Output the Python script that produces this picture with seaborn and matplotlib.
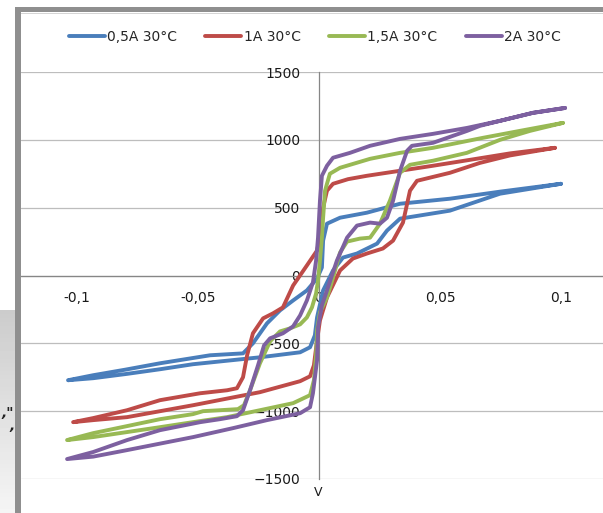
"""
I-V hysteresis loops at 30 C for four currents, Excel-style chart.
"""

import numpy as np
import pandas as pd
import matplotlib
matplotlib.use("Agg")
import matplotlib.pyplot as plt
from matplotlib.patches import Rectangle
from matplotlib.lines import Line2D
import seaborn as sns

# series labels and colours
labels = ["0,5A 30°C", "1A 30°C", "1,5A 30°C", "2A 30°C"]
colors = ["#4a7ebb", "#be4b48", "#98b954", "#7d60a0"]

# 0,5A loop (V, I)
v_05 = [0.100, 0.0748, 0.0541, 0.0335, 0.0198, 0.0087, 0.0033, 0.0017, 0.0012,
        -0.0008, -0.005, -0.0107, -0.0161, -0.0215, -0.0273, -0.0314, -0.045,
        -0.0657, -0.080, -0.0933, -0.1037, -0.0933, -0.0793, -0.0657, -0.0521,
        -0.0244, -0.0078, -0.0037, -0.0017, -0.0008, 0.0017, 0.0058, 0.0099,
        0.0157, 0.024, 0.0281, 0.0335, 0.0541, 0.0748, 0.100]
i_05 = [676, 618, 566, 529, 463, 426, 382, 257, 59,
        -22, -110, -184, -257, -353, -500, -574, -588,
        -647, -694, -735, -772, -757, -725, -691, -654,
        -603, -566, -529, -441, -309, -110, 37, 132,
        162, 235, 331, 419, 478, 603, 676]

# 1A loop
v_1 = [0.0975, 0.0789, 0.0678, 0.0471, 0.0335, 0.0198, 0.012, 0.0058, 0.0033,
       0.0017, 0.0004, -0.0008, -0.005, -0.0107, -0.0149, -0.019, -0.0231,
       -0.0273, -0.0297, -0.0314, -0.0339, -0.038, -0.0491, -0.0657, -0.0793,
       -0.0933, -0.1016, -0.0933, -0.0793, -0.052, -0.0244, -0.0078, -0.0037,
       -0.0021, -0.0008, 0.0004, 0.0033, 0.0087, 0.014, 0.0198, 0.0264, 0.0306,
       0.0347, 0.0376, 0.0405, 0.0541, 0.0665, 0.0789, 0.0975]
i_1 = [941, 900, 868, 809, 772, 735, 710, 676, 625,
       500, 279, 184, 74, -74, -235, -279, -316,
       -426, -588, -750, -831, -846, -868, -919, -993,
       -1051, -1081, -1066, -1044, -956, -860, -779, -743,
       -662, -478, -331, -162, 37, 125, 162, 199, 257,
       390, 625, 698, 757, 830, 885, 941]

# 1,5A loop
v_15 = [0.1008, 0.083, 0.0678, 0.0471, 0.0335, 0.0211, 0.0087, 0.0045, 0.0033,
        0.0025, 0.0017, 0.0012, 0.0004, -0.0004, -0.0012, -0.0029, -0.005,
        -0.0078, -0.012, -0.0161, -0.0202, -0.0244, -0.0285, -0.031, -0.0335,
        -0.0409, -0.0479, -0.0521, -0.0657, -0.0793, -0.0933, -0.1041, -0.0933,
        -0.0793, -0.0657, -0.0521, -0.038, -0.0244, -0.0107, -0.0037, -0.0021,
        -0.0012, -0.0008, 0.0004, 0.0033, 0.0058, 0.0087, 0.0116, 0.0169,
        0.0211, 0.0252, 0.0293, 0.0335, 0.0376, 0.0471, 0.0611, 0.0748, 0.0872,
        0.1008]
i_15 = [1125, 1066, 1015, 941, 904, 860, 794, 750, 676,
        625, 426, 279, 110, -37, -132, -235, -309,
        -360, -390, -412, -485, -647, -846, -956, -985,
        -993, -1000, -1022, -1059, -1110, -1162, -1213, -1191,
        -1154, -1118, -1081, -1044, -993, -941, -882, -772,
        -588, -404, -272, -162, -15, 169, 250, 272,
        279, 382, 551, 757, 816, 846, 904, 1000, 1066,
        1125]

# 2A loop
v_2 = [0.1017, 0.0884, 0.0748, 0.0612, 0.0471, 0.0335, 0.0211, 0.0128, 0.0058,
       0.0033, 0.0012, 0.0004, -0.0004, -0.0012, -0.0025, -0.005, -0.0078,
       -0.0107, -0.0149, -0.0202, -0.0227, -0.0252, -0.0285, -0.0314, -0.0339,
       -0.0409, -0.0491, -0.0657, -0.0793, -0.0933, -0.1041, -0.0933, -0.0793,
       -0.052, -0.0355, -0.0215, -0.0078, -0.0037, -0.0025, -0.0008, -0.0004,
       0.0012, 0.0033, 0.0074, 0.0116, 0.0157, 0.0211, 0.0252, 0.0281, 0.0306,
       0.0335, 0.0364, 0.0384, 0.0471, 0.0612, 0.0665, 0.0748, 0.0884, 0.1017]
i_2 = [1235, 1199, 1140, 1088, 1044, 1007, 956, 904, 868,
       809, 735, 551, 279, 110, -51, -184, -294,
       -375, -426, -463, -515, -662, -846, -993, -1037,
       -1059, -1081, -1140, -1213, -1301, -1353, -1335, -1287,
       -1191, -1125, -1066, -1015, -971, -868, -625, -382,
       -221, -110, 110, 279, 368, 390, 382, 426, 551,
       772, 919, 956, 978, 1066, 1103, 1140, 1199, 1235]

x_ticks = [-0.1, -0.05, 0, 0.05, 0.1]
x_tick_labels = ["-0,1", "-0,05", "0", "0,05", "0,1"]
y_ticks = [-1500, -1000, -500, 0, 500, 1000, 1500]

frames = []
for lab, v, i in zip(labels, [v_05, v_1, v_15, v_2], [i_05, i_1, i_15, i_2]):
    frames.append(pd.DataFrame({"V": v, "I": i, "series": lab}))
df = pd.concat(frames, ignore_index=True)

sns.set_style("white")
plt.rcParams["font.family"] = ["DejaVu Sans"]
plt.rcParams["lines.solid_joinstyle"] = "round"
plt.rcParams["lines.solid_capstyle"] = "round"

W, H = 603, 513
fig = plt.figure(figsize=(W / 100, H / 100), dpi=100)
ax = fig.add_axes([21 / W, 1 - 479 / H, 582 / W, 407 / H])
ax.patch.set_alpha(0)

sns.lineplot(data=df, x="V", y="I", hue="series", hue_order=labels,
             palette=colors, sort=False, estimator=None, linewidth=2.8,
             legend=False, ax=ax, zorder=3)

ax.set_xlim(-0.12314, 0.11736)
ax.set_ylim(-1500, 1500)
ax.set_xticks(x_ticks)
ax.set_xticklabels(x_tick_labels)
ax.set_yticks(y_ticks)
ax.set_xlabel("")
ax.set_ylabel("")

# axes crossing at zero
for side in ["top", "right"]:
    ax.spines[side].set_visible(False)
ax.spines["left"].set_position(("data", 0))
ax.spines["bottom"].set_position(("data", 0))
for side in ["left", "bottom"]:
    ax.spines[side].set_color("#868686")
    ax.spines[side].set_linewidth(0.9)

ax.yaxis.grid(True, color="#bdbdbd", linewidth=0.9)
ax.xaxis.grid(False)
ax.set_axisbelow(True)
ax.tick_params(axis="y", length=0, pad=13.5, labelsize=10, labelcolor="#1a1a1a")
ax.tick_params(axis="x", direction="out", length=3.5, width=0.9, color="#868686",
               pad=8, labelsize=10, labelcolor="#1a1a1a")

fig.text(318 / W, 1 - 492 / H, "V", ha="center", va="center", fontsize=9,
         color="#1a1a1a")

handles = [Line2D([0], [0], color=c, lw=2.8) for c in colors]
fig.legend(handles, labels, loc="center", bbox_to_anchor=(0.522, 1 - 37 / H),
           ncol=4, frameon=False, fontsize=10, handlelength=2.6,
           handletextpad=0.15, columnspacing=2.05)

# chart frame (grey borders on the left and top)
fig.patches.append(Rectangle((15 / W, 0), 6 / W, 1 - 7 / H, transform=fig.transFigure,
                             facecolor="#8f8f8f", edgecolor="none", zorder=5))
fig.patches.append(Rectangle((15 / W, 1 - 12 / H), 588 / W, 5 / H,
                             transform=fig.transFigure, facecolor="#8f8f8f",
                             edgecolor="none", zorder=5))
fig.patches.append(Rectangle((21 / W, 1 - 14 / H), 582 / W, 1 / H,
                             transform=fig.transFigure, facecolor="#d5d5d5",
                             edgecolor="none", zorder=5))

# grey slide background peeking in at the left
bg = fig.add_axes([0, 0, 15 / W, 203 / H])
bg.imshow(np.linspace(0.80, 0.96, 50).reshape(-1, 1), cmap="gray", vmin=0, vmax=1,
          aspect="auto")
bg.axis("off")
fig.text(1 / W, 1 - 413 / H, ',"', fontsize=10, style="italic", weight="bold",
         color="#222222", va="center")
fig.text(9 / W, 1 - 426 / H, ",", fontsize=10, style="italic", weight="bold",
         color="#222222", va="center")

fig.savefig("out.png", dpi=100)
